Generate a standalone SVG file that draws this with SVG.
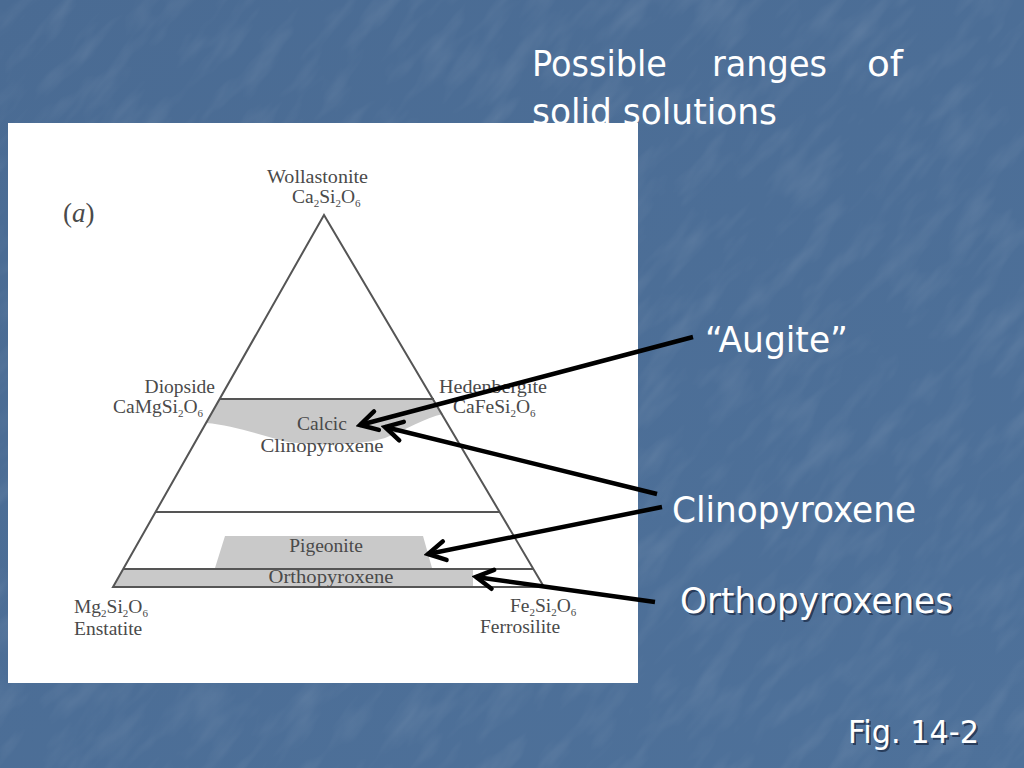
<svg xmlns="http://www.w3.org/2000/svg" width="1024" height="768" viewBox="0 0 1024 768">
  <defs>
    <style>
      .ser { font-family: "Liberation Serif", "Times New Roman", serif; fill: #4a4a4a; font-size: 19.5px; }
      .sub { font-size: 11px; }
      .ttl { font-family: "DejaVu Sans", Verdana, sans-serif; fill: #ffffff; font-size: 36px; }
      .shd { font-family: "DejaVu Sans", Verdana, sans-serif; fill: #1c2c48; font-size: 36px; opacity: 0.75; }
      .edge { fill: none; stroke: #555555; stroke-width: 2; }
      .band { fill: #c9c9c9; }
      .arrow { fill: none; stroke: #000000; stroke-width: 4.5; marker-end: url(#vhead); }
    </style>
    <marker id="vhead" markerUnits="userSpaceOnUse" viewBox="-22 -14 26 28" refX="0" refY="0" markerWidth="26" markerHeight="28" orient="auto">
      <path d="M-17,-9.5 L0,0 L-17,9.5" fill="none" stroke="#000" stroke-width="4.5" stroke-linecap="round" stroke-linejoin="miter"/>
    </marker>
    <filter id="tex" x="0" y="0" width="100%" height="100%">
      <feTurbulence type="fractalNoise" baseFrequency="0.05 0.015" numOctaves="3" seed="11" result="n"/>
      <feColorMatrix type="matrix" values="0 0 0 0 1  0 0 0 0 1  0 0 0 0 1  0 0 0 1.1 -0.5"/>
    </filter>
    <linearGradient id="bg" x1="0" y1="0" x2="1" y2="1">
      <stop offset="0" stop-color="#4a6b93"/>
      <stop offset="1" stop-color="#4e719a"/>
    </linearGradient>
  </defs>

  <!-- background -->
  <rect x="0" y="0" width="1024" height="768" fill="url(#bg)"/>
  <g transform="rotate(40 512 384)" opacity="0.16">
    <rect x="-300" y="-300" width="1624" height="1368" filter="url(#tex)"/>
  </g>

  <!-- title (partly covered by the figure panel) -->
  <g id="title">
    <text class="ttl" x="532" y="76" textLength="135" lengthAdjust="spacingAndGlyphs">Possible</text>
    <text class="ttl" x="712" y="76" textLength="115" lengthAdjust="spacingAndGlyphs">ranges</text>
    <text class="ttl" x="867" y="76" textLength="36" lengthAdjust="spacingAndGlyphs">of</text>
    <text class="ttl" x="532" y="124" textLength="245" lengthAdjust="spacingAndGlyphs">solid solutions</text>
  </g>

  <!-- figure panel -->
  <rect id="panel" x="8" y="123" width="630" height="560" fill="#ffffff"/>

  <g id="fields">
    <path id="calcic-field" class="band" d="M219,400 L434,400 L443,414 C425,418 405,430 385,438 C360,446 305,446 283,441 C255,433 230,425 206,423 Z"/>
    <polygon id="pigeonite-field" class="band" points="225,536 423,536 432,568 215,568"/>
    <polygon id="opx-field" class="band" points="123,569 473,569 473,587 113,587"/>
  </g>

  <g id="triangle">
    <path class="edge" d="M113,587 L324,215 L544,587 Z"/>
    <line class="edge" x1="219" y1="399" x2="434" y2="399"/>
    <line class="edge" x1="155" y1="512" x2="500" y2="512"/>
    <line class="edge" x1="123" y1="569" x2="533" y2="569"/>
  </g>

  <g id="label-a">
    <text class="ser" x="63" y="222" style="font-size:27px">(<tspan font-style="italic">a</tspan>)</text>
  </g>

  <g id="wollastonite">
    <text class="ser" x="267" y="183" textLength="101" lengthAdjust="spacingAndGlyphs">Wollastonite</text>
    <text class="ser" x="292" y="203">Ca<tspan class="sub" dy="4">2</tspan><tspan dy="-4">Si</tspan><tspan class="sub" dy="4">2</tspan><tspan dy="-4">O</tspan><tspan class="sub" dy="4">6</tspan></text>
  </g>

  <g id="diopside">
    <text class="ser" x="215" y="393" text-anchor="end">Diopside</text>
    <text class="ser" x="113" y="413">CaMgSi<tspan class="sub" dy="4">2</tspan><tspan dy="-4">O</tspan><tspan class="sub" dy="4">6</tspan></text>
  </g>

  <g id="hedenbergite">
    <text class="ser" x="439" y="393" textLength="108" lengthAdjust="spacingAndGlyphs">Hedenbergite</text>
    <text class="ser" x="453" y="413">CaFeSi<tspan class="sub" dy="4">2</tspan><tspan dy="-4">O</tspan><tspan class="sub" dy="4">6</tspan></text>
  </g>

  <g id="calcic-cpx">
    <text class="ser" x="322" y="430" text-anchor="middle">Calcic</text>
    <text class="ser" x="322" y="452" text-anchor="middle" textLength="123" lengthAdjust="spacingAndGlyphs">Clinopyroxene</text>
  </g>

  <g id="pigeonite">
    <text class="ser" x="326" y="552" text-anchor="middle">Pigeonite</text>
  </g>

  <g id="orthopyroxene">
    <text class="ser" x="331" y="583" text-anchor="middle" textLength="125" lengthAdjust="spacingAndGlyphs">Orthopyroxene</text>
  </g>

  <g id="enstatite">
    <text class="ser" x="74" y="613">Mg<tspan class="sub" dy="4">2</tspan><tspan dy="-4">Si</tspan><tspan class="sub" dy="4">2</tspan><tspan dy="-4">O</tspan><tspan class="sub" dy="4">6</tspan></text>
    <text class="ser" x="74" y="635">Enstatite</text>
  </g>

  <g id="ferrosilite">
    <text class="ser" x="510" y="612">Fe<tspan class="sub" dy="4">2</tspan><tspan dy="-4">Si</tspan><tspan class="sub" dy="4">2</tspan><tspan dy="-4">O</tspan><tspan class="sub" dy="4">6</tspan></text>
    <text class="ser" x="480" y="633">Ferrosilite</text>
  </g>

  <g id="connectors">
    <line class="arrow" x1="693" y1="337" x2="360" y2="425"/>
    <line class="arrow" x1="657" y1="494" x2="385" y2="427"/>
    <line class="arrow" x1="662" y1="507" x2="428" y2="554"/>
    <line class="arrow" x1="655" y1="602" x2="476" y2="577"/>
  </g>

  <g id="augite">
    <text class="ttl" x="705" y="352" textLength="143" lengthAdjust="spacingAndGlyphs">“Augite”</text>
  </g>

  <g id="clinopyroxene">
    <text class="ttl" x="672" y="522" textLength="244" lengthAdjust="spacingAndGlyphs">Clinopyroxene</text>
  </g>

  <g id="orthopyroxenes">
    <text class="shd" x="682" y="615" textLength="273" lengthAdjust="spacingAndGlyphs">Orthopyroxenes</text>
    <text class="ttl" x="680" y="613" textLength="273" lengthAdjust="spacingAndGlyphs">Orthopyroxenes</text>
  </g>

  <g id="fig-label">
    <text class="shd" x="850" y="745" style="font-size:32px" textLength="131" lengthAdjust="spacingAndGlyphs">Fig. 14-2</text>
    <text class="ttl" x="848" y="743" style="font-size:32px" textLength="131" lengthAdjust="spacingAndGlyphs">Fig. 14-2</text>
  </g>
</svg>
